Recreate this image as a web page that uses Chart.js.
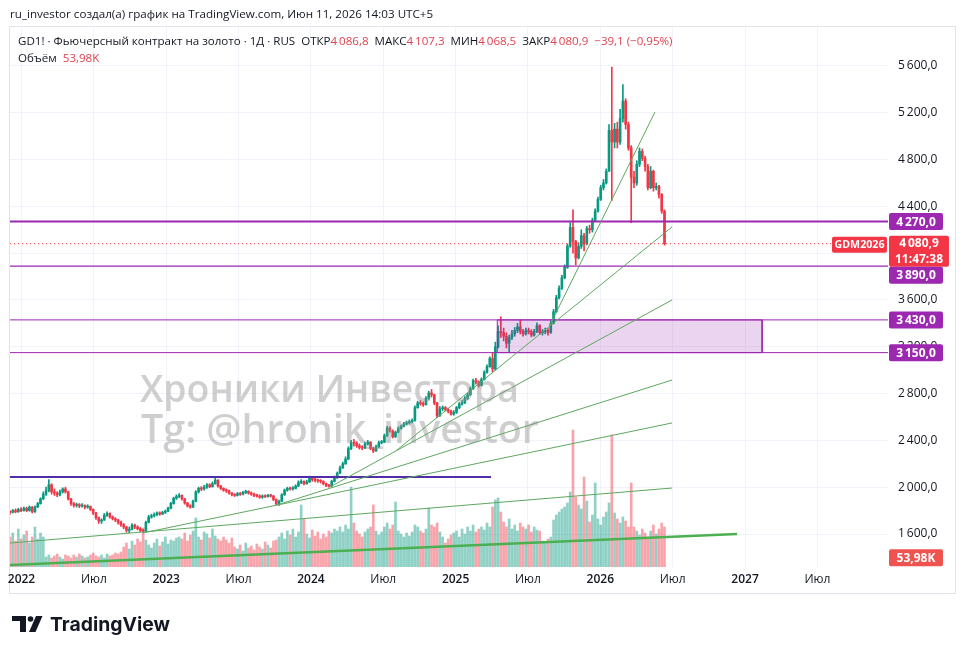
<!DOCTYPE html>
<html><head><meta charset="utf-8">
<script src="https://cdn.jsdelivr.net/npm/chart.js@4.4.1/dist/chart.umd.min.js"></script>
<style>
html,body{margin:0;padding:0;background:#fff;width:965px;height:654px;overflow:hidden;}
#wrap{position:relative;width:965px;height:654px;}
canvas{position:absolute;left:0;top:0;}
#hdr{position:absolute;left:10px;top:6px;line-height:16px;font-family:"Open Sans",sans-serif;color:#131722;white-space:nowrap;}
#logo{position:absolute;left:50px;top:611px;line-height:26px;font-family:"Inter",sans-serif;font-weight:700;color:#131722;white-space:nowrap;}
</style></head><body>
<div id="wrap"><canvas id="c" width="965" height="654"></canvas>
<div id="hdr">ru_investor создал(а) график на TradingView.com, Июн 11, 2026 14:03 UTC+5</div>
<div id="logo">TradingView</div></div>
<script>
// ---------- DATA (weekly candles) ----------
const WEEK_START = 2021.9205;          // fractional year of first weekly candle
const WEEK_STEP = 7 / 365.25;
const firstOpen = 1790;
const closes = [1785,1800,1790,1810,1800,1820,1800,1830,1790,1830,
1860,1900,1940,1970,2020,1960,1950,1935,1960,1985,
1960,1900,1860,1845,1850,1840,1845,1830,1835,1810,
1780,1740,1710,1720,1760,1775,1745,1730,1720,1700,
1680,1660,1630,1640,1675,1660,1645,1630,1625,1700,
1745,1755,1765,1780,1770,1785,1795,1820,1860,1905,
1920,1930,1900,1865,1840,1830,1880,1960,1990,1985,
2000,2020,2005,2030,2060,2010,1990,1975,1970,1950,
1935,1930,1945,1940,1955,1965,1950,1940,1930,1925,
1915,1925,1920,1930,1925,1895,1860,1880,1935,1975,
1990,1985,1990,2010,2040,2050,2030,2045,2075,2065,
2060,2055,2050,2030,2015,2010,2050,2080,2120,2165,
2200,2240,2330,2380,2375,2355,2340,2335,2370,2385,
2330,2310,2345,2380,2385,2440,2505,2480,2430,2470,
2500,2520,2540,2550,2560,2570,2680,2720,2715,2705,
2760,2805,2790,2720,2610,2670,2680,2665,2650,2625,
2640,2680,2710,2720,2760,2790,2840,2910,2900,2870,
2920,2980,3030,3100,3010,3200,3330,3320,3290,3230,
3280,3310,3340,3370,3330,3310,3340,3330,3300,3330,
3380,3320,3330,3340,3320,3400,3500,3620,3700,3790,
3880,4060,4220,4100,3960,4060,4150,4080,4210,4200,
4280,4360,4460,4560,4600,4700,5050,4950,5060,4950,
5150,5300,5100,4900,4650,4600,4760,4870,4810,4740,
4560,4700,4560,4570,4500,4360,4081];
const highs = [1800,1810,1815,1820,1825,1830,1830,1840,1835,1840,
1870,1910,1960,2000,2065,2030,1985,1960,1975,1995,
2000,1965,1905,1870,1865,1860,1860,1850,1850,1840,
1815,1785,1745,1730,1775,1790,1780,1755,1740,1725,
1710,1690,1665,1660,1690,1685,1670,1655,1640,1710,
1760,1770,1780,1790,1790,1795,1805,1830,1870,1915,
1935,1945,1935,1905,1870,1850,1890,1970,2000,2005,
2015,2030,2030,2045,2080,2065,2015,1995,1985,1975,
1955,1945,1955,1955,1965,1975,1970,1960,1950,1940,
1935,1935,1935,1940,1940,1930,1900,1890,1945,1985,
2000,2000,2005,2020,2055,2065,2055,2060,2095,2085,
2075,2070,2065,2055,2035,2025,2060,2095,2130,2180,
2215,2260,2345,2400,2410,2390,2370,2355,2385,2400,
2390,2340,2360,2395,2400,2455,2520,2515,2490,2480,
2515,2530,2555,2565,2575,2585,2695,2735,2740,2730,
2775,2820,2835,2795,2725,2690,2695,2690,2675,2660,
2655,2690,2725,2740,2775,2805,2855,2925,2930,2910,
2935,2995,3045,3115,3150,3240,3380,3455,3360,3320,
3300,3340,3365,3400,3430,3350,3360,3360,3345,3350,
3405,3390,3350,3360,3355,3420,3520,3640,3720,3810,
3900,4080,4260,4370,4110,4090,4200,4170,4230,4240,
4300,4380,4480,4580,4630,4720,5100,5590,5110,5120,
5230,5440,5320,5120,4920,4700,4790,4900,4890,4830,
4760,4740,4710,4600,4580,4510,4370];
const lows = [1770,1780,1780,1785,1790,1795,1790,1795,1780,1785,
1825,1855,1895,1930,1960,1940,1930,1920,1925,1950,
1950,1890,1845,1830,1830,1825,1830,1815,1820,1800,
1765,1725,1690,1690,1715,1750,1735,1720,1705,1685,
1665,1645,1615,1610,1635,1645,1635,1620,1615,1620,
1695,1735,1745,1755,1760,1765,1775,1790,1815,1855,
1895,1910,1890,1855,1830,1820,1825,1875,1950,1970,
1975,1990,1995,2000,2025,2000,1980,1965,1955,1940,
1925,1920,1925,1930,1935,1945,1940,1930,1920,1915,
1905,1905,1910,1915,1915,1885,1850,1845,1875,1930,
1965,1975,1975,1985,2005,2030,2020,2025,2040,2050,
2045,2040,2035,2020,2005,2000,2005,2045,2075,2115,
2160,2195,2235,2320,2350,2340,2325,2320,2330,2360,
2320,2295,2305,2340,2370,2380,2435,2470,2420,2425,
2465,2495,2515,2530,2540,2550,2565,2675,2700,2690,
2700,2750,2770,2705,2595,2605,2655,2650,2635,2615,
2615,2630,2670,2700,2715,2750,2785,2835,2880,2855,
2865,2915,2975,3025,2985,3000,3190,3280,3250,3190,
3150,3260,3290,3320,3310,3290,3300,3310,3285,3290,
3320,3305,3300,3310,3300,3315,3395,3490,3610,3690,
3780,3870,4050,4000,3900,3950,4040,4020,4070,4170,
4180,4270,4350,4450,4540,4590,4700,4450,4900,4900,
4930,5120,5060,4880,4260,4560,4580,4740,4790,4700,
4540,4550,4530,4540,4470,4340,4068];
// volume, thousands of contracts (average day in the week)
const volumes = [150,170,130,190,140,160,180,120,150,200,140,170,150,
50,60,45,55,65,50,40,60,55,45,60,50,65,55,45,50,60,70,55,50,60,45,65,55,60,70,65,75,
100,120,90,130,110,140,125,195,135,110,95,120,140,105,125,150,115,135,130,145,
150,140,170,130,160,180,245,150,135,175,165,145,190,155,140,130,150,135,120,145,
100,90,110,80,120,95,105,85,115,100,90,125,110,95,130,135,
150,170,140,180,160,190,150,175,310,240,165,145,185,155,175,140,165,150,180,
170,190,180,200,175,210,190,400,220,180,165,150,175,190,200,310,180,160,175,200,220,190,210,325,180,165,150,170,155,175,210,200,180,170,190,295,210,200,220,175,150,120,140,160,
170,180,150,190,165,200,180,210,175,190,200,185,220,200,
300,335,345,275,
225,200,240,190,210,180,220,200,190,210,175,200,185,180,
130,120,140,150,
235,260,275,290,300,320,
375,685,
350,310,290,450,330,
225,260,420,240,210,250,275,
320,660,
270,240,220,250,230,200,
420,
200,180,160,190,170,150,180,210,165,190,220,200];
const lastVolume = 53.98;
// x-axis tick labels
const yearLabels = ['2022','2023','2024','2025','2026','2027'];
const midYearLabel = 'Июл';
// drawn levels (price)
const levelMain = 4270, levelSupport = 3890, zoneTop = 3430, zoneBottom = 3150;
const zoneFrom = 2025.2878, zoneTo = 2027.1182;
const oldHigh = 2087, oldHighFrom = 2021.9205, oldHighTo = 2025.2446;
// trend lines: [year1, price1, year2, price2]
const baseTrend = [2021.9205, 1335, 2026.9447, 1600];
const trendLines = [
  [2021.9205, 1523, 2026.4955, 1993],
  [2022.8397, 1609, 2026.4955, 2549],
  [2023.7657, 1848, 2026.4955, 2916],
  [2024.1320, 2002, 2026.4955, 3600],
  [2024.5951, 2318, 2026.4955, 4224],
  [2025.6524, 3386, 2026.3780, 5207]
];
// legend values
const lastPrice = 4080.9;
const legendOHLC = {open: 4086.8, high: 4107.3, low: 4068.5, close: 4080.9, chg: -39.1, chgPct: -0.95};
const countdown = '11:47:38';
const contractName = 'GDM2026';

// ---------- BUILD ----------
const FONT = '"Open Sans", sans-serif';
const UP = '#089981', DOWN = '#F23645';
const X_MIN = 2021.9205, X_MAX = 2027.988, Y_MIN = 1318, Y_MAX = 5933;
const xs = closes.map((_, i) => WEEK_START + i * WEEK_STEP);
const opens = closes.map((c, i) => i === 0 ? firstOpen : closes[i - 1]);
const isUp = closes.map((c, i) => c >= opens[i]);

function fmtNum(v, d) {
  const s = Math.abs(v).toFixed(d);
  let [ip, dp] = s.split('.');
  if (ip.length > 3) ip = ip.slice(0, ip.length - 3) + '\u2009' + ip.slice(-3);
  return (v < 0 ? '\u2212' : '') + ip + (dp ? ',' + dp : '');
}
function seg(p, color, width, order, dash) {
  return {type: 'line', data: [{x: p[0], y: p[1]}, {x: p[2], y: p[3]}], borderColor: color,
    borderWidth: width, borderDash: dash || [], pointRadius: 0, fill: false, tension: 0, order, yAxisID: 'y'};
}

const datasets = [
  {type: 'bar', data: xs.map((x, i) => ({x, y: volumes[i]})), yAxisID: 'yv', order: 100,
   backgroundColor: isUp.map(u => u ? 'rgba(8,153,129,0.45)' : 'rgba(242,54,69,0.45)'),
   barThickness: 2, grouped: false, borderWidth: 0},
  {type: 'bar', data: xs.map((x, i) => ({x, y: [lows[i], highs[i]]})), yAxisID: 'y', order: 90,
   backgroundColor: isUp.map(u => u ? UP : DOWN), barThickness: 1, grouped: false, borderWidth: 0, minBarLength: 1},
  {type: 'bar', data: xs.map((x, i) => ({x, y: [opens[i], closes[i]]})), yAxisID: 'y', order: 80,
   backgroundColor: isUp.map(u => u ? UP : DOWN), barThickness: 2, grouped: false, borderWidth: 0, minBarLength: 1},
  {type: 'line', yAxisID: 'y', order: 50, pointRadius: 0, tension: 0,
   data: [{x: zoneFrom, y: zoneBottom}, {x: zoneFrom, y: zoneTop}, {x: zoneTo, y: zoneTop}, {x: zoneTo, y: zoneBottom}, {x: zoneFrom, y: zoneBottom}],
   borderColor: '#9C27B0', borderWidth: 1, backgroundColor: 'rgba(156,39,176,0.2)', fill: 'shape'},
  seg([X_MIN, levelMain, X_MAX, levelMain], '#9C27B0', 2, 40),
  seg([X_MIN, levelSupport, X_MAX, levelSupport], '#9C27B0', 1.2, 40),
  seg([X_MIN, zoneTop, X_MAX, zoneTop], '#9C27B0', 1, 40),
  seg([X_MIN, zoneBottom, X_MAX, zoneBottom], '#9C27B0', 1, 40),
  seg([oldHighFrom, oldHigh, oldHighTo, oldHigh], '#512DA8', 2, 40),
  seg(baseTrend, '#4CAF50', 2.5, 30),
  ...trendLines.map(t => seg(t, '#5DA85F', 1, 30)),
  seg([X_MIN, lastPrice, X_MAX, lastPrice], '#F23645', 1, 20, [1, 3])
];

function box(ctx, x, y, w, h, bg, lines, font, color) {
  ctx.fillStyle = bg;
  ctx.beginPath();
  ctx.roundRect ? ctx.roundRect(x, y, w, h, 2) : ctx.rect(x, y, w, h);
  ctx.fill();
  ctx.fillStyle = color || '#fff';
  ctx.font = font;
  ctx.textAlign = 'center';
  ctx.textBaseline = 'middle';
  const lh = h / lines.length;
  lines.forEach((t, k) => ctx.fillText(t, x + w / 2, y + lh * k + lh / 2 + 0.5));
}
function fitFont(ctx, text, weight, family, target, base) {
  ctx.font = `${weight} ${base}px ${family}`;
  return base * target / ctx.measureText(text).width;
}

const overlay = {
  id: 'overlay',
  beforeDraw(chart) {
    const ctx = chart.ctx;
    ctx.save();
    ctx.fillStyle = '#fff';
    ctx.fillRect(0, 0, chart.width, chart.height);
    ctx.strokeStyle = '#E0E3EB';
    ctx.lineWidth = 1;
    ctx.strokeRect(9.5, 26.5, 946, 567);
    ctx.restore();
  },
  afterDatasetsDraw(chart) {
    const ctx = chart.ctx;
    ctx.save();
    ctx.fillStyle = 'rgba(140,140,140,0.42)';
    ctx.textAlign = 'left';
    ctx.textBaseline = 'alphabetic';
    const t1 = 'Хроники Инвестора', t2 = 'Tg: @hronik_investor';
    const s1 = fitFont(ctx, t1, 600, FONT, 379, 40);
    ctx.font = `600 ${s1}px ${FONT}`;
    ctx.fillText(t1, 140, 402);
    const s2 = fitFont(ctx, t2, 600, FONT, 398, 40);
    ctx.font = `600 ${s2}px ${FONT}`;
    ctx.fillText(t2, 141, 443);
    ctx.restore();
  },
  afterDraw(chart) {
    const ctx = chart.ctx, y = chart.scales.y, yv = chart.scales.yv;
    ctx.save();
    // legend
    const dark = '#131722', red = '#E0434F';
    const parts = [
      ['GD1! · Фьючерсный контракт на золото · 1Д · RUS  ОТКР', dark], [fmtNum(legendOHLC.open, 1), red],
      ['  МАКС', dark], [fmtNum(legendOHLC.high, 1), red], ['  МИН', dark], [fmtNum(legendOHLC.low, 1), red],
      ['  ЗАКР', dark], [fmtNum(legendOHLC.close, 1), red],
      ['  ' + fmtNum(legendOHLC.chg, 1) + ' (' + fmtNum(legendOHLC.chgPct, 2) + '%)', red]];
    const full = parts.map(p => p[0]).join('');
    const fs = fitFont(ctx, full, 400, FONT, 655, 12);
    ctx.font = `400 ${fs}px ${FONT}`;
    ctx.textBaseline = 'middle'; ctx.textAlign = 'left';
    let x = 18;
    parts.forEach(([t, c]) => { ctx.fillStyle = c; ctx.fillText(t, x, 42); x += ctx.measureText(t).width; });
    ctx.fillStyle = dark; ctx.fillText('Объём  ', 18, 59);
    const wv = ctx.measureText('Объём  ').width;
    ctx.fillStyle = red; ctx.fillText(fmtNum(lastVolume, 2) + 'K', 18 + wv, 59);
    // right side tags
    const bold = `700 12px ${FONT}`;
    const pLast = y.getPixelForValue(lastPrice);
    const redTop = pLast - 8, redH = 31;
    const gs = fitFont(ctx, contractName, 700, FONT, 50, 11);
    box(ctx, 832, pLast - 7, 55, 16, DOWN, [contractName], `700 ${gs}px ${FONT}`);
    const pMain = y.getPixelForValue(levelMain);
    box(ctx, 889, pMain - 8.5, 54, 17, '#9C27B0', [fmtNum(levelMain, 1)], bold);
    box(ctx, 889, redTop, 60, redH, DOWN, [fmtNum(lastPrice, 1), countdown], bold);
    const pSup = Math.max(y.getPixelForValue(levelSupport), redTop + redH + 8.5);
    box(ctx, 889, pSup - 8.5, 54, 17, '#9C27B0', [fmtNum(levelSupport, 1)], bold);
    [zoneTop, zoneBottom].forEach(v => {
      const p = y.getPixelForValue(v);
      box(ctx, 889, p - 8.5, 54, 17, '#9C27B0', [fmtNum(v, 1)], bold);
    });
    const pv = yv.getPixelForValue(lastVolume);
    box(ctx, 889, pv - 7, 54, 17, '#EF5350', [fmtNum(lastVolume, 2) + 'K'], bold);
    // TradingView logo mark
    ctx.fillStyle = '#131722';
    ctx.fillRect(12, 616, 14, 5);
    ctx.fillRect(20, 616, 6, 16);
    ctx.beginPath(); ctx.arc(30.5, 619, 2.8, 0, Math.PI * 2); ctx.fill();
    ctx.beginPath(); ctx.moveTo(36, 616); ctx.lineTo(42.5, 616); ctx.lineTo(35.5, 632); ctx.lineTo(29, 632); ctx.closePath(); ctx.fill();
    ctx.restore();
  }
};

// size header / logo text to the reference widths
(function () {
  const m = document.createElement('canvas').getContext('2d');
  const hdr = document.getElementById('hdr');
  hdr.style.fontSize = fitFont(m, hdr.textContent, 400, FONT, 424, 13) + 'px';
  const logo = document.getElementById('logo');
  logo.style.fontSize = fitFont(m, logo.textContent, 700, '"Inter", sans-serif', 120, 22) + 'px';
})();

new Chart(document.getElementById('c'), {
  type: 'bar',
  data: {datasets},
  options: {
    responsive: false, animation: false, devicePixelRatio: 1,
    layout: {padding: {left: 10, top: 27, right: 10, bottom: 61}},
    plugins: {legend: {display: false}, tooltip: {enabled: false}},
    scales: {
      x: {type: 'linear', min: X_MIN, max: X_MAX, offset: false,
        afterFit(s) { s.height = 26; },
        grid: {color: '#F0F3FA', drawTicks: false, offset: false},
        border: {display: false},
        ticks: {stepSize: 0.5, includeBounds: false, autoSkip: false, maxRotation: 0, padding: 5, color: '#131722',
          font: c => ({family: FONT, size: 12, weight: (c.tick && Math.abs(c.tick.value % 1) < 1e-6) ? '600' : '400'}),
          callback: v => Math.abs(v % 1) < 1e-6 ? yearLabels[Math.round(v) - 2022] : midYearLabel}},
      y: {type: 'linear', position: 'right', min: Y_MIN, max: Y_MAX,
        afterFit(s) { s.width = 67; },
        grid: {color: '#F0F3FA', drawTicks: false},
        border: {display: false},
        ticks: {stepSize: 400, includeBounds: false, padding: 10, color: '#131722',
          font: {family: FONT, size: 12}, callback: v => fmtNum(v, 1)}},
      yv: {type: 'linear', display: false, min: 0, max: 2700}
    }
  },
  plugins: [overlay]
});
</script>
</body></html>
